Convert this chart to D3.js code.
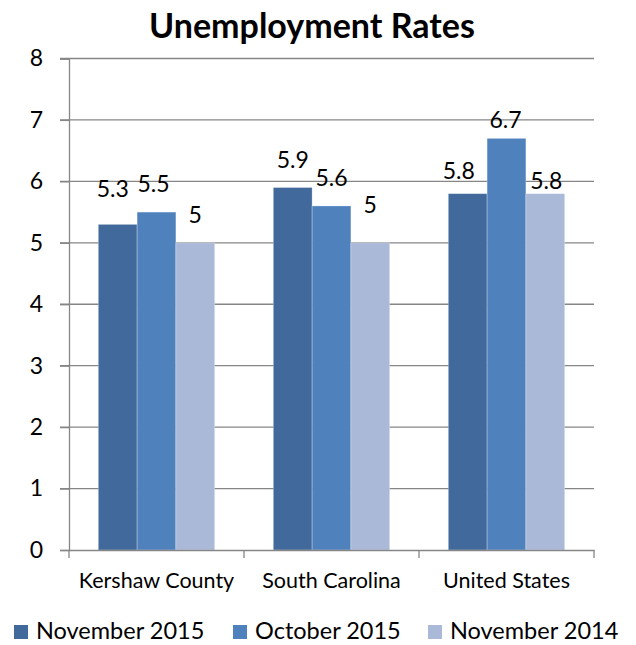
<!DOCTYPE html>
<html>
<head>
<meta charset="utf-8">
<script src="https://cdn.jsdelivr.net/npm/d3@7"></script>
<style>
  body { margin: 0; background: #fff; }
  svg text { font-family: Lato, "Open Sans", sans-serif; fill: #000; }
</style>
</head>
<body>
<svg id="chart" width="636" height="645"></svg>
<script>
const categories = ["Kershaw County", "South Carolina", "United States"];
const seriesNames = ["November 2015", "October 2015", "November 2014"];
const nov2015 = [5.3, 5.9, 5.8];
const oct2015 = [5.5, 5.6, 6.7];
const nov2014 = [5.0, 5.0, 5.8];
const yTicks = [0, 1, 2, 3, 4, 5, 6, 7, 8];
const colors = ["#41699b", "#4f81bd", "#aab9d7"];

// label placement tweaks (Excel nudges labels to avoid overlaps), [dx, gap above bar]
const labelNudge = [
    [[-5, 27], [-3, 20], [0, 20]],
    [[0, 20], [0, 20], [0, 30]],
    [[-9, 15], [-1, 10], [1, 5]]
];

const seriesValues = [nov2015, oct2015, nov2014];
const data = categories.map((c, i) => ({
    cat: c,
    vals: seriesNames.map((s, j) => ({ key: s, value: seriesValues[j][i], nudge: labelNudge[i][j] }))
}));

const svg = d3.select("#chart");
const plot = { left: 69, right: 594, top: 58.5, bottom: 550 };

const x0 = d3.scaleBand().domain(categories).range([plot.left, plot.right]).paddingInner(0.335).paddingOuter(0.1675);
const x1 = d3.scaleBand().domain(seriesNames).range([0, x0.bandwidth()]);
const y = d3.scaleLinear().domain([0, 8]).range([plot.bottom, plot.top]);

// title
svg.append("text").attr("x", 312).attr("y", 38).attr("text-anchor", "middle")
    .style("font-size", "34px").style("font-weight", "bold").text("Unemployment Rates");

// gridlines
svg.append("g").selectAll("line").data(yTicks.filter(d => d > 0)).enter().append("line")
    .attr("x1", plot.left - 9).attr("x2", plot.right)
    .attr("y1", d => y(d)).attr("y2", d => y(d))
    .attr("stroke", "#868686").attr("stroke-width", 1.3);

// y axis
const yAxis = svg.append("g").attr("transform", `translate(${plot.left},0)`)
    .call(d3.axisLeft(y).tickValues(yTicks).tickSize(9).tickPadding(17));
yAxis.select(".domain").attr("stroke", "#868686").attr("stroke-width", 1.3);
yAxis.selectAll(".tick line").attr("stroke", "#868686").attr("stroke-width", 1.3);
yAxis.selectAll(".tick text").style("font-size", "23px").style("font-family", "Lato, sans-serif");

// bars
const groups = svg.append("g").selectAll("g").data(data).enter().append("g")
    .attr("transform", d => `translate(${x0(d.cat)},0)`);
groups.selectAll("rect").data(d => d.vals).enter().append("rect")
    .attr("x", d => x1(d.key)).attr("width", x1.bandwidth())
    .attr("y", d => y(d.value)).attr("height", d => y(0) - y(d.value))
    .attr("fill", (d, i) => colors[i])
    .attr("stroke", "#ffffff").attr("stroke-opacity", 0.35).attr("stroke-width", 0.8);

groups.selectAll("text").data(d => d.vals).enter().append("text")
    .attr("x", d => x1(d.key) + x1.bandwidth() / 2 + d.nudge[0])
    .attr("y", d => y(d.value) - d.nudge[1])
    .attr("text-anchor", "middle").style("font-size", "23px")
    .text(d => d3.format("")(d.value));

// x axis
const xAxis = svg.append("g").attr("transform", `translate(0,${plot.bottom})`)
    .call(d3.axisBottom(x0).tickSize(0).tickPadding(23));
xAxis.select(".domain").attr("stroke", "#868686").attr("stroke-width", 1.3);
xAxis.selectAll(".tick text").style("font-size", "21.5px").style("font-family", "Lato, sans-serif");
const bounds = [plot.left].concat(categories.map(c => x0(c) + x0.bandwidth() + x0.step() * 0.335 / 2));
svg.append("g").selectAll("line").data(bounds).enter().append("line")
    .attr("x1", d => d).attr("x2", d => d)
    .attr("y1", plot.bottom).attr("y2", plot.bottom + 8)
    .attr("stroke", "#868686").attr("stroke-width", 1.3);

// legend
const legendX = [14, 233, 428];
const legend = svg.append("g").selectAll("g").data(seriesNames).enter().append("g")
    .attr("transform", (d, i) => `translate(${legendX[i]},625)`);
legend.append("rect").attr("width", 14).attr("height", 14).attr("fill", (d, i) => colors[i]);
legend.append("text").attr("x", 22).attr("y", 14).style("font-size", "23.5px").text(d => d);
</script>
</body>
</html>
